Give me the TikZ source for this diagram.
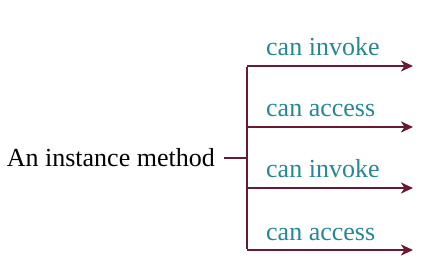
\documentclass[tikz,border=0pt]{standalone}
\usepackage{fontspec}
\setmainfont{Liberation Serif}
\usetikzlibrary{arrows.meta}
\definecolor{linecol}{RGB}{105,25,50}
\definecolor{labcol}{RGB}{38,135,148}
\tikzset{
  conn/.style={draw=linecol, line width=2.7bp},
  arr/.style={conn, -{Stealth[length=12bp,width=11bp,inset=3.5bp]}},
  lab/.style={text=labcol, font=\fontsize{26bp}{30bp}\selectfont, inner sep=0pt, anchor=base west},
  main/.style={font=\fontsize{26bp}{30bp}\selectfont, inner sep=0pt, anchor=east}
}
\begin{document}
\begin{tikzpicture}[x=1bp,y=-1bp]
\useasboundingbox (0,0) rectangle (422,280);
\node[main] (m) at (215,158) {An instance method};
\coordinate (j) at (224,158);
\coordinate (t) at (247,66);
\coordinate (b) at (247,250);
\coordinate (c2) at (247,127);
\coordinate (c3) at (247,188);
\coordinate (e1) at (413,66);
\coordinate (e2) at (413,127);
\coordinate (e3) at (413,188);
\coordinate (e4) at (413,250);
\draw[conn] (j) -- (247,158);
\draw[conn] ([yshift=-1.35bp]t) -- ([yshift=1.35bp]b);
\draw[arr] (t) -- (e1);
\draw[arr] (c2) -- (e2);
\draw[arr] (c3) -- (e3);
\draw[arr] (b) -- (e4);
\node[lab] (l1) at (266,55) {can invoke};
\node[lab] (l2) at (266,116) {can access};
\node[lab] (l3) at (266,177) {can invoke};
\node[lab] (l4) at (266,240) {can access};
\end{tikzpicture}
\end{document}
